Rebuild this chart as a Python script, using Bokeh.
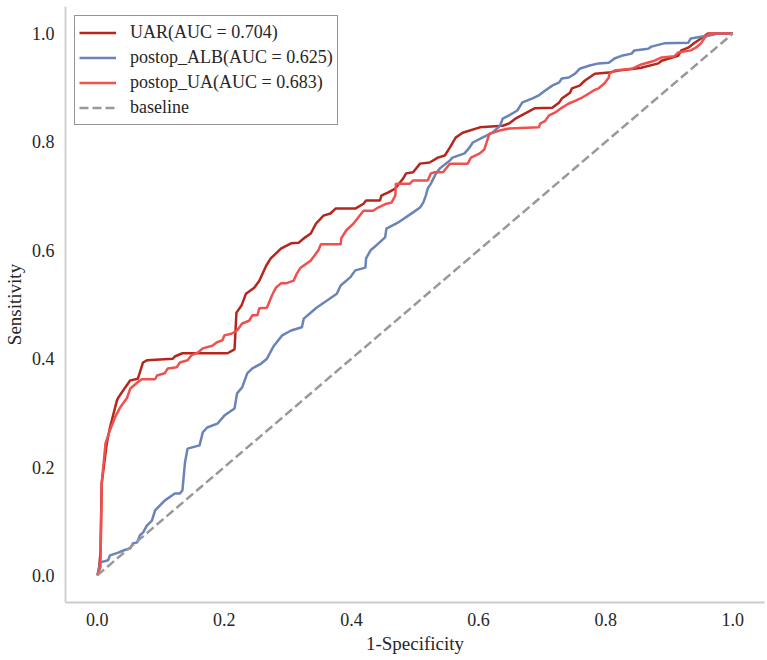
from bokeh.plotting import figure
from bokeh.models import Range1d, Legend, LegendItem, FixedTicker, PrintfTickFormatter
from bokeh.embed import file_html
from bokeh.resources import INLINE

# ---------------- data ----------------
uar_fpr = [0.0, 0.002, 0.005, 0.007, 0.015, 0.020, 0.031, 0.033, 0.044, 0.052, 0.064, 0.072, 0.078,
           0.119, 0.122, 0.134, 0.205, 0.216, 0.219, 0.227, 0.234, 0.247, 0.255, 0.266, 0.273, 0.289,
           0.305, 0.317, 0.325, 0.336, 0.344, 0.356, 0.367, 0.375, 0.406, 0.419, 0.423, 0.445, 0.447,
           0.458, 0.469, 0.481, 0.486, 0.497, 0.508, 0.523, 0.536, 0.547, 0.555, 0.564, 0.575, 0.602,
           0.638, 0.648, 0.658, 0.672, 0.688, 0.716, 0.727, 0.731, 0.744, 0.747, 0.759, 0.767, 0.783,
           0.805, 0.820, 0.845, 0.856, 0.883, 0.888, 0.914, 0.919, 0.930, 0.939, 0.950, 0.961, 1.0]
uar_tpr = [0.0, 0.004, 0.041, 0.170, 0.244, 0.273, 0.323, 0.328, 0.347, 0.360, 0.363, 0.393, 0.397,
           0.400, 0.404, 0.410, 0.410, 0.417, 0.485, 0.498, 0.520, 0.531, 0.544, 0.572, 0.585, 0.603,
           0.613, 0.614, 0.622, 0.631, 0.649, 0.664, 0.668, 0.677, 0.677, 0.686, 0.692, 0.692, 0.701,
           0.707, 0.714, 0.732, 0.742, 0.744, 0.760, 0.762, 0.771, 0.775, 0.790, 0.808, 0.817, 0.827,
           0.830, 0.834, 0.843, 0.852, 0.862, 0.863, 0.873, 0.880, 0.891, 0.899, 0.904, 0.913, 0.926,
           0.928, 0.932, 0.935, 0.937, 0.945, 0.950, 0.959, 0.969, 0.974, 0.982, 0.991, 1.0, 1.0]

alb_fpr = [0.0, 0.005, 0.017, 0.020, 0.033, 0.041, 0.052, 0.056, 0.063, 0.067, 0.072, 0.078, 0.086,
           0.091, 0.106, 0.122, 0.130, 0.134, 0.138, 0.142, 0.161, 0.166, 0.173, 0.189, 0.200, 0.216,
           0.220, 0.228, 0.236, 0.244, 0.258, 0.267, 0.278, 0.291, 0.305, 0.322, 0.325, 0.345, 0.361,
           0.377, 0.383, 0.398, 0.406, 0.422, 0.423, 0.430, 0.439, 0.453, 0.455, 0.473, 0.497, 0.508,
           0.513, 0.517, 0.520, 0.525, 0.533, 0.539, 0.555, 0.559, 0.578, 0.586, 0.591, 0.606, 0.622,
           0.634, 0.638, 0.648, 0.661, 0.669, 0.684, 0.695, 0.705, 0.716, 0.727, 0.731, 0.742, 0.752,
           0.759, 0.775, 0.789, 0.805, 0.814, 0.825, 0.841, 0.845, 0.867, 0.872, 0.892, 0.930, 0.934,
           0.950, 0.961, 0.977, 1.0]
alb_tpr = [0.0, 0.024, 0.028, 0.037, 0.042, 0.046, 0.050, 0.059, 0.061, 0.074, 0.079, 0.092, 0.101,
           0.120, 0.138, 0.151, 0.151, 0.157, 0.208, 0.234, 0.240, 0.264, 0.273, 0.280, 0.295, 0.308,
           0.336, 0.347, 0.373, 0.382, 0.391, 0.400, 0.424, 0.443, 0.452, 0.458, 0.474, 0.494, 0.507,
           0.520, 0.535, 0.550, 0.563, 0.568, 0.585, 0.600, 0.609, 0.624, 0.640, 0.651, 0.670, 0.679,
           0.688, 0.701, 0.714, 0.723, 0.742, 0.751, 0.766, 0.771, 0.779, 0.790, 0.799, 0.808, 0.817,
           0.830, 0.843, 0.849, 0.858, 0.873, 0.880, 0.886, 0.895, 0.904, 0.910, 0.917, 0.919, 0.926,
           0.935, 0.941, 0.945, 0.946, 0.954, 0.959, 0.963, 0.969, 0.972, 0.976, 0.982, 0.983, 0.991,
           0.994, 0.996, 1.0, 1.0]

ua_fpr = [0.0, 0.005, 0.007, 0.013, 0.020, 0.028, 0.036, 0.047, 0.052, 0.063, 0.070, 0.091, 0.094,
          0.106, 0.111, 0.125, 0.130, 0.142, 0.148, 0.158, 0.166, 0.181, 0.188, 0.197, 0.200, 0.211,
          0.220, 0.228, 0.239, 0.244, 0.252, 0.255, 0.267, 0.275, 0.281, 0.289, 0.297, 0.309, 0.314,
          0.320, 0.336, 0.348, 0.352, 0.383, 0.384, 0.392, 0.403, 0.411, 0.419, 0.434, 0.442, 0.455,
          0.463, 0.469, 0.470, 0.492, 0.497, 0.520, 0.525, 0.531, 0.544, 0.555, 0.583, 0.588, 0.602,
          0.609, 0.617, 0.622, 0.633, 0.648, 0.695, 0.697, 0.705, 0.711, 0.720, 0.731, 0.742, 0.752,
          0.763, 0.773, 0.781, 0.789, 0.798, 0.805, 0.806, 0.814, 0.841, 0.856, 0.877, 0.888, 0.908,
          0.914, 0.934, 0.942, 0.950, 0.955, 0.963, 1.0]
ua_tpr = [0.0, 0.015, 0.170, 0.244, 0.268, 0.292, 0.310, 0.328, 0.345, 0.356, 0.362, 0.362, 0.369,
          0.373, 0.382, 0.384, 0.393, 0.397, 0.406, 0.411, 0.419, 0.424, 0.430, 0.434, 0.443, 0.446,
          0.452, 0.465, 0.470, 0.480, 0.480, 0.493, 0.494, 0.517, 0.531, 0.539, 0.539, 0.544, 0.557,
          0.568, 0.581, 0.600, 0.611, 0.611, 0.622, 0.637, 0.649, 0.661, 0.673, 0.673, 0.679, 0.686,
          0.688, 0.701, 0.723, 0.723, 0.729, 0.729, 0.742, 0.744, 0.744, 0.760, 0.760, 0.771, 0.779,
          0.786, 0.815, 0.817, 0.821, 0.825, 0.827, 0.834, 0.839, 0.849, 0.854, 0.863, 0.871, 0.876,
          0.882, 0.889, 0.895, 0.899, 0.908, 0.919, 0.926, 0.932, 0.935, 0.943, 0.950, 0.956, 0.958,
          0.965, 0.969, 0.974, 0.982, 0.991, 1.0, 1.0]

base_x = [0.0, 1.0]
base_y = [0.0, 1.0]

labels = ["UAR(AUC = 0.704)", "postop_ALB(AUC = 0.625)", "postop_UA(AUC = 0.683)", "baseline"]
ticks = [0.0, 0.2, 0.4, 0.6, 0.8, 1.0]

# ---------------- figure ----------------
FONT = "Liberation Serif"
TXT = "#262626"

p = figure(width=767, height=660, output_backend="svg", toolbar_location=None,
           x_range=Range1d(-0.05, 1.05), y_range=Range1d(-0.05, 1.05),
           min_border_left=61, min_border_right=3, min_border_top=6, min_border_bottom=58)
p.outline_line_color = None
p.xgrid.visible = False
p.ygrid.visible = False
p.background_fill_color = "white"
p.border_fill_color = "white"

r1 = p.line(uar_fpr, uar_tpr, line_color="#b5271c", line_width=2.5)
r2 = p.line(alb_fpr, alb_tpr, line_color="#6a84b7", line_width=2.5)
r3 = p.line(ua_fpr, ua_tpr, line_color="#f0504f", line_width=2.5)
r4 = p.line(base_x, base_y, line_color="#999999", line_width=2.5, line_dash="9 4")

for ax in (p.xaxis[0], p.yaxis[0]):
    ax.ticker = FixedTicker(ticks=ticks)
    ax.formatter = PrintfTickFormatter(format="%.1f")
    ax.axis_line_color = "#cccccc"
    ax.axis_line_width = 1.8
    ax.major_tick_out = 0
    ax.major_tick_in = 0
    ax.minor_tick_out = 0
    ax.minor_tick_in = 0
    ax.major_label_text_font = FONT
    ax.major_label_text_font_size = "18px"
    ax.major_label_text_color = TXT
    ax.axis_label_text_font = FONT
    ax.axis_label_text_font_size = "19px"
    ax.axis_label_text_font_style = "normal"
    ax.axis_label_text_color = TXT

p.xaxis.axis_label = "1-Specificity"
p.yaxis.axis_label = "Sensitivity"
p.xaxis.major_label_standoff = 10
p.xaxis.axis_label_standoff = 4
p.yaxis.major_label_standoff = 11
p.yaxis.axis_label_standoff = 4

legend = Legend(items=[LegendItem(label=labels[0], renderers=[r1]),
                       LegendItem(label=labels[1], renderers=[r2]),
                       LegendItem(label=labels[2], renderers=[r3]),
                       LegendItem(label=labels[3], renderers=[r4])],
                location="top_left", margin=9, padding=4, spacing=0,
                label_height=25, glyph_height=25, glyph_width=37, label_standoff=14,
                label_text_font=FONT, label_text_font_size="18px", label_text_color=TXT,
                border_line_color="#2b2b2b", border_line_width=1.8,
                background_fill_color="white", background_fill_alpha=1.0)
p.add_layout(legend)

open("out.html", "w").write(file_html(p, INLINE))
